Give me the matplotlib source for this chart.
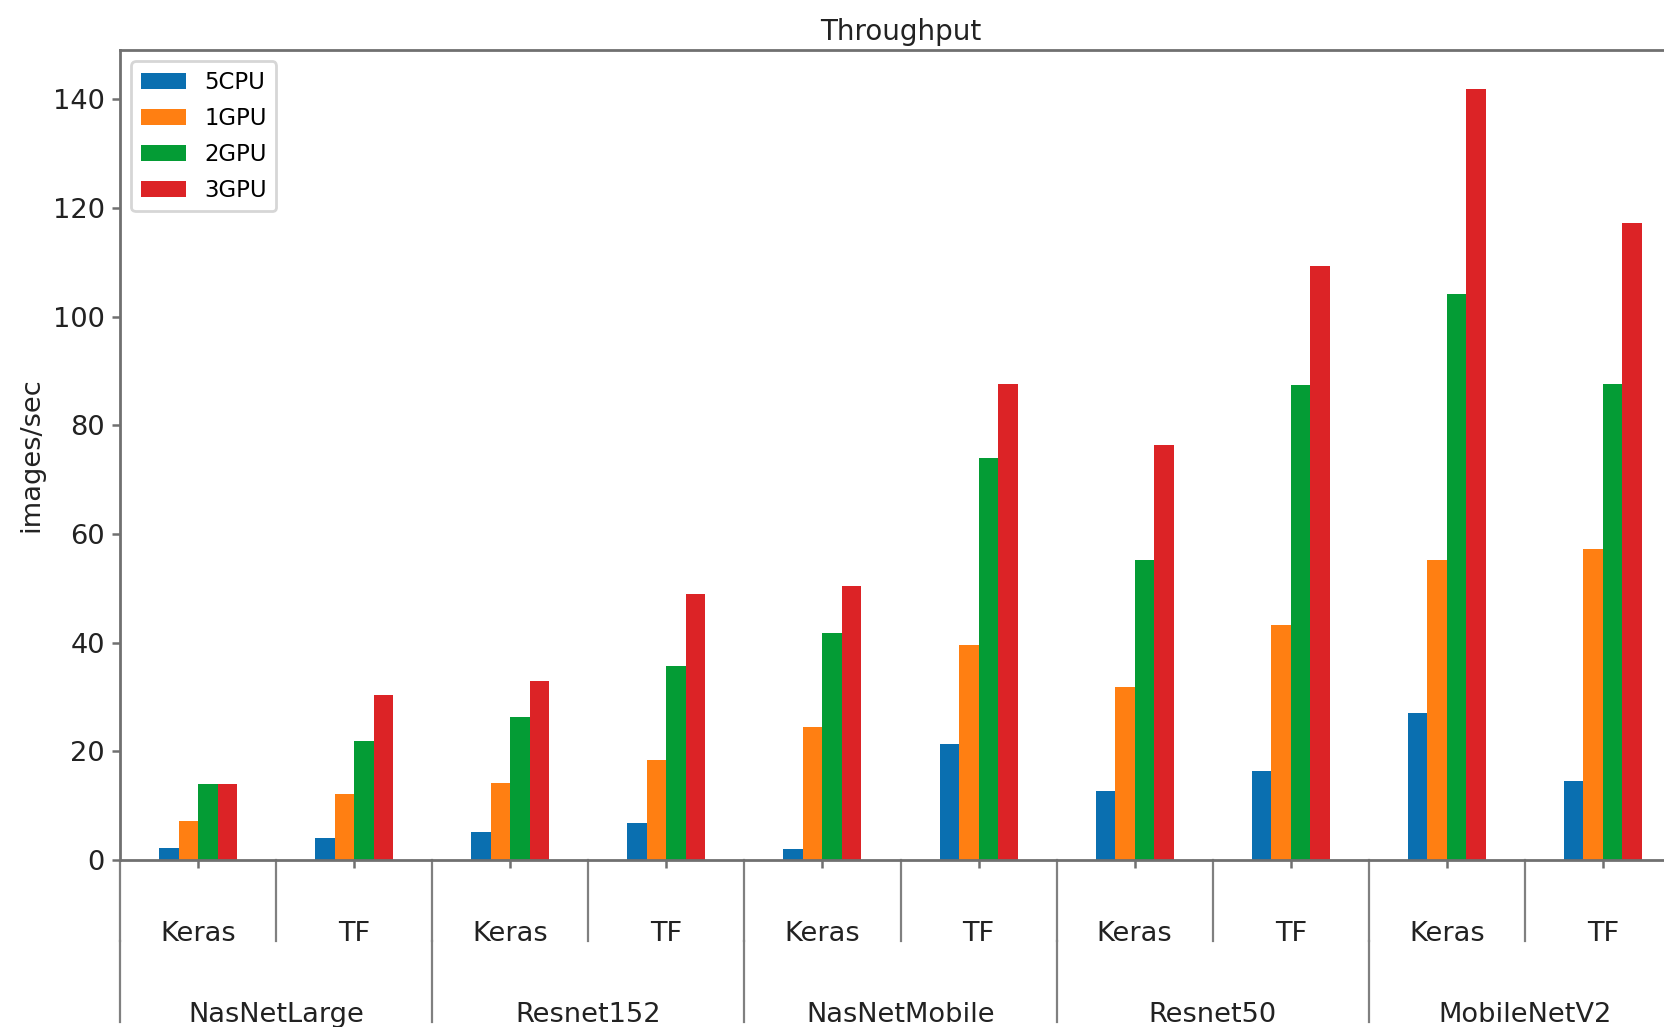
import matplotlib
matplotlib.use('Agg')
import matplotlib.pyplot as plt
import numpy as np

# models (outer level) and frameworks (inner level)
models = ['NasNetLarge', 'Resnet152', 'NasNetMobile', 'Resnet50', 'MobileNetV2']
frameworks = ['Keras', 'TF']
series_names = ['5CPU', '1GPU', '2GPU', '3GPU']

# throughput in images/sec, one value per (model, framework)
cpu5 = [2.3, 4.1, 5.1, 6.8, 2.1, 21.3, 12.7, 16.4, 27.1, 14.6]
gpu1 = [7.2, 12.1, 14.1, 18.5, 24.4, 39.5, 31.8, 43.2, 55.3, 57.2]
gpu2 = [14.0, 21.9, 26.4, 35.7, 41.8, 74.0, 55.3, 87.5, 104.1, 87.7]
gpu3 = [14.0, 30.3, 33.0, 49.0, 50.4, 87.7, 76.4, 109.4, 142.0, 117.2]

colors = ['#0a6fb0', '#ff7f12', '#049c35', '#dc2326']
edge = '#707070'


def add_line(ax, xpos, ypos):
    line = plt.Line2D([xpos, xpos], [ypos + .1, ypos], transform=ax.transAxes,
                      color='gray', linewidth=0.8)
    line.set_clip_on(False)
    ax.add_line(line)


def label_group_bar(ax, outer, inner):
    n = len(outer) * len(inner)
    scale = 1. / n
    # inner level first
    ypos = -.1
    pos = 0
    for m in outer:
        for f in inner:
            ax.text((pos + .5) * scale, ypos, f, ha='center',
                    transform=ax.transAxes, fontsize=9.8, color='#222222')
            add_line(ax, pos * scale, ypos)
            pos += 1
    add_line(ax, pos * scale, ypos)
    # outer level
    ypos -= .1
    pos = 0
    for m in outer:
        rpos = len(inner)
        ax.text((pos + .5 * rpos) * scale, ypos, m, ha='center',
                transform=ax.transAxes, fontsize=9.8, color='#222222')
        add_line(ax, pos * scale, ypos)
        pos += rpos
    add_line(ax, pos * scale, ypos)


fig = plt.figure(figsize=(8.325, 5.135), dpi=200)
ax = fig.add_axes([0.0721, 0.1626, 0.9375, 0.7887])

data = [cpu5, gpu1, gpu2, gpu3]
x = np.arange(len(models) * len(frameworks))
width = 0.5 / len(data)
for i, (name, vals) in enumerate(zip(series_names, data)):
    ax.bar(x + (i - 1.5) * width, vals, width, color=colors[i], label=name)

for s in ax.spines.values():
    s.set_color(edge)
    s.set_linewidth(1.0)

ax.set_xlim(-0.5, len(x) - 0.5)
ax.set_xticks(x)
ax.set_xticklabels([])
ax.tick_params(axis='both', color=edge, length=3, width=0.9)
ax.tick_params(axis='y', labelsize=9.8, pad=2.5, labelcolor='#222222')
ax.set_ylabel('images/sec', fontsize=9.8, labelpad=3, color='#222222')
ax.set_title('Throughput', fontsize=10, pad=3.5, color='#222222')
ax.legend(loc='upper left', fontsize=8.2, labelspacing=0.58)

label_group_bar(ax, models, frameworks)

fig.savefig('out.png', dpi=200)
